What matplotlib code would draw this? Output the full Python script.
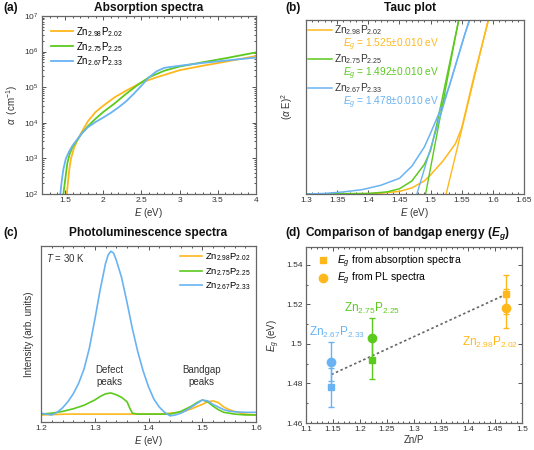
import matplotlib
matplotlib.use("Agg")
import matplotlib.pyplot as plt
from matplotlib.lines import Line2D
from matplotlib.ticker import MultipleLocator, FuncFormatter, LogLocator

plt.rcParams['font.family'] = ['Liberation Sans', 'DejaVu Sans']
plt.rcParams['mathtext.fontset'] = 'custom'
plt.rcParams['mathtext.rm'] = 'Liberation Sans'
plt.rcParams['mathtext.it'] = 'Liberation Sans:italic'
plt.rcParams['mathtext.bf'] = 'Liberation Sans:bold'
try:
    plt.rcParams['mathtext.bfit'] = 'Liberation Sans:italic:bold'
except KeyError:
    pass

ORANGE = '#FFB81C'
GREEN = '#5CC91E'
BLUE = '#69B3F2'
TXT = '#333333'

names = [r'Zn$_{2.98}$P$_{2.02}$', r'Zn$_{2.75}$P$_{2.25}$', r'Zn$_{2.67}$P$_{2.33}$']
colors = [ORANGE, GREEN, BLUE]

# (a) absorption spectra
abs_E_o = [1.525, 1.54, 1.56, 1.58, 1.62, 1.67, 1.72, 1.8, 1.9, 2.0, 2.15, 2.3, 2.5, 2.7, 3.0, 3.3, 3.6, 4.0]
abs_a_o = [1.0e2, 2.2e2, 5.5e2, 1.0e3, 2.0e3, 3.5e3, 5.5e3, 1.1e4, 2.0e4, 3.0e4, 5.2e4, 8.0e4,
           1.35e5, 1.9e5, 3.0e5, 4.0e5, 5.2e5, 7.5e5]
abs_E_g = [1.48, 1.5, 1.53, 1.56, 1.6, 1.65, 1.72, 1.8, 1.9, 2.0, 2.15, 2.3, 2.45, 2.6, 2.8, 3.0, 3.3, 3.6, 4.0]
abs_a_g = [1.0e2, 2.2e2, 7.0e2, 1.3e3, 2.1e3, 3.0e3, 5.0e3, 8.0e3, 1.3e4, 2.0e4, 3.5e4, 6.5e4,
           1.15e5, 1.9e5, 2.9e5, 3.8e5, 5.0e5, 6.5e5, 9.5e5]
abs_E_b = [1.44, 1.46, 1.48, 1.51, 1.55, 1.6, 1.65, 1.72, 1.8, 1.9, 2.0, 2.1, 2.2, 2.3, 2.4, 2.5,
           2.6, 2.7, 2.8, 3.0, 3.3, 3.6, 4.0]
abs_a_b = [1.0e2, 2.5e2, 5.0e2, 9.5e2, 1.5e3, 2.3e3, 3.2e3, 5.0e3, 7.5e3, 1.05e4, 1.4e4, 1.9e4,
           2.7e4, 4.0e4, 6.5e4, 1.1e5, 1.9e5, 2.8e5, 3.5e5, 4.0e5, 4.8e5, 5.6e5, 6.8e5]

# (b) Tauc plot, (alpha E)^2 in arbitrary units
tauc_E_o = [1.30, 1.40, 1.42, 1.45, 1.47, 1.49, 1.50, 1.52, 1.54, 1.55, 1.56, 1.57, 1.58, 1.593, 1.60]
tauc_y_o = [0.0, 0.002, 0.005, 0.015, 0.035, 0.075, 0.11, 0.19, 0.29, 0.38, 0.53, 0.68, 0.82, 1.0, 1.1]
tauc_E_g = [1.30, 1.40, 1.43, 1.45, 1.47, 1.49, 1.50, 1.51, 1.52, 1.53, 1.54, 1.546, 1.55]
tauc_y_g = [0.0, 0.003, 0.012, 0.03, 0.075, 0.17, 0.25, 0.40, 0.57, 0.74, 0.91, 1.01, 1.08]
tauc_E_b = [1.30, 1.33, 1.36, 1.39, 1.42, 1.45, 1.47, 1.49, 1.50, 1.5126, 1.53, 1.545, 1.555, 1.563, 1.57]
tauc_y_b = [0.0, 0.003, 0.012, 0.025, 0.05, 0.09, 0.16, 0.27, 0.35, 0.456, 0.62, 0.80, 0.92, 1.0, 1.08]
eg_vals = [1.525, 1.492, 1.478]
eg_top = [1.5925, 1.545, 1.562]

# (c) photoluminescence, T = 30 K
pl_E_o = [1.20, 1.25, 1.30, 1.35, 1.40, 1.42, 1.44, 1.46, 1.48, 1.50, 1.51, 1.52, 1.53, 1.54, 1.55,
          1.56, 1.58, 1.60]
pl_I_o = [0.04, 0.045, 0.045, 0.045, 0.045, 0.045, 0.05, 0.055, 0.075, 0.10, 0.115, 0.12, 0.11,
          0.085, 0.07, 0.06, 0.045, 0.04]
pl_E_g = [1.20, 1.22, 1.24, 1.26, 1.28, 1.29, 1.30, 1.31, 1.32, 1.33, 1.34, 1.35, 1.36, 1.365,
          1.37, 1.38, 1.40, 1.42, 1.44, 1.46, 1.48, 1.49, 1.50, 1.51, 1.52, 1.53, 1.54, 1.56,
          1.58, 1.60]
pl_I_g = [0.045, 0.05, 0.06, 0.075, 0.095, 0.11, 0.125, 0.145, 0.16, 0.165, 0.155, 0.14, 0.115,
          0.08, 0.05, 0.045, 0.045, 0.045, 0.045, 0.06, 0.09, 0.11, 0.125, 0.115, 0.09, 0.07,
          0.055, 0.045, 0.04, 0.04]
pl_E_b = [1.20, 1.21, 1.22, 1.23, 1.24, 1.25, 1.26, 1.27, 1.28, 1.29, 1.30, 1.31, 1.32, 1.325,
          1.33, 1.335, 1.34, 1.35, 1.36, 1.37, 1.38, 1.39, 1.40, 1.41, 1.42, 1.43, 1.44, 1.45,
          1.46, 1.47, 1.48, 1.49, 1.50, 1.51, 1.52, 1.53, 1.54, 1.55, 1.56, 1.58, 1.60]
pl_I_b = [0.05, 0.045, 0.04, 0.055, 0.08, 0.115, 0.16, 0.22, 0.30, 0.42, 0.58, 0.75, 0.90, 0.95,
          0.97, 0.96, 0.92, 0.82, 0.68, 0.53, 0.40, 0.29, 0.20, 0.13, 0.085, 0.055, 0.035, 0.04,
          0.05, 0.065, 0.085, 0.105, 0.125, 0.12, 0.10, 0.085, 0.07, 0.062, 0.058, 0.055, 0.055]

# (d) bandgap comparison
zn_p = [1.470, 1.223, 1.147]
eg_abs = [1.525, 1.492, 1.478]
eg_pl = [1.518, 1.503, 1.491]
eg_err = [0.010, 0.010, 0.010]
fit_x = [1.147, 1.470]
fit_y = [1.4845, 1.525]
lab_x = [1.441, 1.222, 1.157]
lab_y = [1.5008, 1.5179, 1.506]

W, H = 534, 450


def add_ax(fig, l, t, r, b):
    return fig.add_axes([l / W, 1 - b / H, (r - l) / W, (b - t) / H])


def style(ax):
    for s in ax.spines.values():
        s.set_color('#666666')
        s.set_linewidth(0.9)
    ax.tick_params(which='both', direction='in', top=True, right=True,
                   colors='#555555', labelcolor=TXT, labelsize=6, width=0.7)
    ax.tick_params(which='major', length=3, pad=2.5)
    ax.tick_params(which='minor', length=1.6)


gfmt = FuncFormatter(lambda v, p: '%g' % round(v, 4))

fig = plt.figure(figsize=(W / 100, H / 100), dpi=100)

# ---------- (a)
ax = add_ax(fig, 42, 16, 256, 194)
for E, a, c, n in zip([abs_E_o, abs_E_g, abs_E_b], [abs_a_o, abs_a_g, abs_a_b], colors, names):
    ax.plot(E, a, color=c, lw=1.3, label=n)
ax.set_yscale('log')
ax.set_xlim(1.2, 4)
ax.set_ylim(1e2, 1e7)
ax.xaxis.set_major_locator(MultipleLocator(0.5))
ax.xaxis.set_minor_locator(MultipleLocator(0.1))
ax.xaxis.set_major_formatter(gfmt)
ax.yaxis.set_major_locator(LogLocator(base=10, numticks=10))
style(ax)
ax.set_xlabel(r'$E$ (eV)', fontsize=7, color=TXT, labelpad=1)
ax.set_ylabel(r'$\alpha$  (cm$^{-1}$)', fontsize=7, color=TXT, labelpad=3)
ax.legend(loc='upper left', frameon=False, fontsize=7, handlelength=2.3, handletextpad=0.3,
          labelspacing=0.12, borderaxespad=0.5, borderpad=0.4)

# ---------- (b)
ax = add_ax(fig, 306, 20, 524, 194)
for E, y, c in zip([tauc_E_o, tauc_E_g, tauc_E_b], [tauc_y_o, tauc_y_g, tauc_y_b], colors):
    ax.plot(E, y, color=c, lw=1.1)
for eg, et, c in zip(eg_vals, eg_top, colors):
    ax.plot([eg, et], [0, 1], color=c, lw=1.0)
ax.set_xlim(1.3, 1.65)
ax.set_ylim(0, 1)
ax.xaxis.set_major_locator(MultipleLocator(0.05))
ax.xaxis.set_minor_locator(MultipleLocator(0.01))
ax.xaxis.set_major_formatter(gfmt)
ax.set_yticks([])
style(ax)
ax.set_xlabel(r'$E$ (eV)', fontsize=7, color=TXT, labelpad=1)
ax.set_ylabel(r'($\alpha$ E)$^2$', fontsize=7, color=TXT, labelpad=8)
# legend with the fitted gap under each entry
for i, (eg, c, n) in enumerate(zip(eg_vals, colors, names)):
    y0 = 0.943 - i * 0.167
    ax.plot([0.01, 0.12], [y0, y0], color=c, lw=1.1, transform=ax.transAxes)
    ax.text(0.128, y0, n, color=TXT, fontsize=7.3, va='center', transform=ax.transAxes)
    ax.text(0.172, y0 - 0.085, '$E_g$ = %.3f$\\pm$0.010 eV' % eg, color=c, fontsize=7.3,
            va='center', transform=ax.transAxes)

# ---------- (c)
ax = add_ax(fig, 41, 246, 256, 422)
for E, I, c, n in zip([pl_E_o, pl_E_g, pl_E_b], [pl_I_o, pl_I_g, pl_I_b], colors, names):
    ax.plot(E, I, color=c, lw=1.2, label=n)
ax.set_xlim(1.2, 1.6)
ax.set_ylim(0, 1)
ax.xaxis.set_major_locator(MultipleLocator(0.1))
ax.xaxis.set_minor_locator(MultipleLocator(0.02))
ax.xaxis.set_major_formatter(gfmt)
ax.set_yticks([])
style(ax)
ax.set_xlabel(r'$E$ (eV)', fontsize=7, color=TXT, labelpad=1)
ax.set_ylabel('Intensity (arb. units)', fontsize=7, color=TXT, labelpad=5)
ax.text(0.025, 0.93, r'$T$ = 30 K', transform=ax.transAxes, fontsize=7, color=TXT, va='center')
ax.text(1.3276, 0.26, 'Defect\npeaks', fontsize=7, color=TXT, ha='center', va='center',
        linespacing=1.3)
ax.text(1.499, 0.26, 'Bandgap\npeaks', fontsize=7, color=TXT, ha='center', va='center',
        linespacing=1.3)
ax.legend(loc='upper right', frameon=False, fontsize=6.8, handlelength=2.3, handletextpad=0.3,
          labelspacing=0.3, borderaxespad=0.3, borderpad=0.3)

# ---------- (d)
ax = add_ax(fig, 306, 247, 522, 423)
ax.plot(fit_x, fit_y, color='#666666', lw=1.2, ls=(0, (1.5, 1.5)))
for x, ya, yp, e, c in zip(zn_p, eg_abs, eg_pl, eg_err, colors):
    ax.errorbar(x, ya, yerr=e, fmt='s', color=c, ms=5, lw=1, capsize=2.5, capthick=1)
    ax.errorbar(x, yp, yerr=e, fmt='o', color=c, ms=6, lw=1, capsize=2.5, capthick=1)
for x, y, c, n in zip(lab_x, lab_y, colors, names):
    ax.text(x, y, n, color=c, fontsize=8.5, ha='center', va='center')
ax.set_xlim(1.1, 1.5)
ax.set_ylim(1.46, 1.549)
ax.xaxis.set_major_locator(MultipleLocator(0.05))
ax.xaxis.set_minor_locator(MultipleLocator(0.01))
ax.yaxis.set_major_locator(MultipleLocator(0.02))
ax.yaxis.set_minor_locator(MultipleLocator(0.01))
ax.xaxis.set_major_formatter(gfmt)
ax.yaxis.set_major_formatter(gfmt)
style(ax)
ax.set_xlabel('Zn/P', fontsize=7, color=TXT, labelpad=1)
ax.set_ylabel(r'$E_g$ (eV)', fontsize=7, color=TXT, labelpad=3)
leg_h = [Line2D([], [], marker='s', color=ORANGE, ls='none', ms=5),
         Line2D([], [], marker='o', color=ORANGE, ls='none', ms=6)]
ax.legend(leg_h, [r'$E_g$ from absorption spectra', r'$E_g$ from PL spectra'], loc='upper left',
          frameon=False, fontsize=7.5, handletextpad=0.4, labelspacing=0.12, borderaxespad=0.3,
          borderpad=0.3)

# ---------- titles
tkw = dict(fontsize=8.6, fontweight='bold', color='#111111', va='center')
fig.text(3 / W, 1 - 8 / H, '(a)', ha='left', **tkw)
fig.text(149 / W, 1 - 8 / H, 'Absorption spectra', ha='center', **tkw)
fig.text(285 / W, 1 - 8 / H, '(b)', ha='left', **tkw)
fig.text(410 / W, 1 - 8 / H, 'Tauc plot', ha='center', **tkw)
fig.text(3 / W, 1 - 233 / H, '(c)', ha='left', **tkw)
fig.text(148 / W, 1 - 233 / H, 'Photoluminescence spectra', ha='center', **tkw)
fig.text(285 / W, 1 - 233 / H, '(d)', ha='left', **tkw)
fig.text(305 / W, 1 - 233 / H, r'Comparison of bandgap energy ($\mathbfit{E}_\mathbfit{g}$)',
         ha='left', **tkw)

fig.savefig('out.png', dpi=100)
